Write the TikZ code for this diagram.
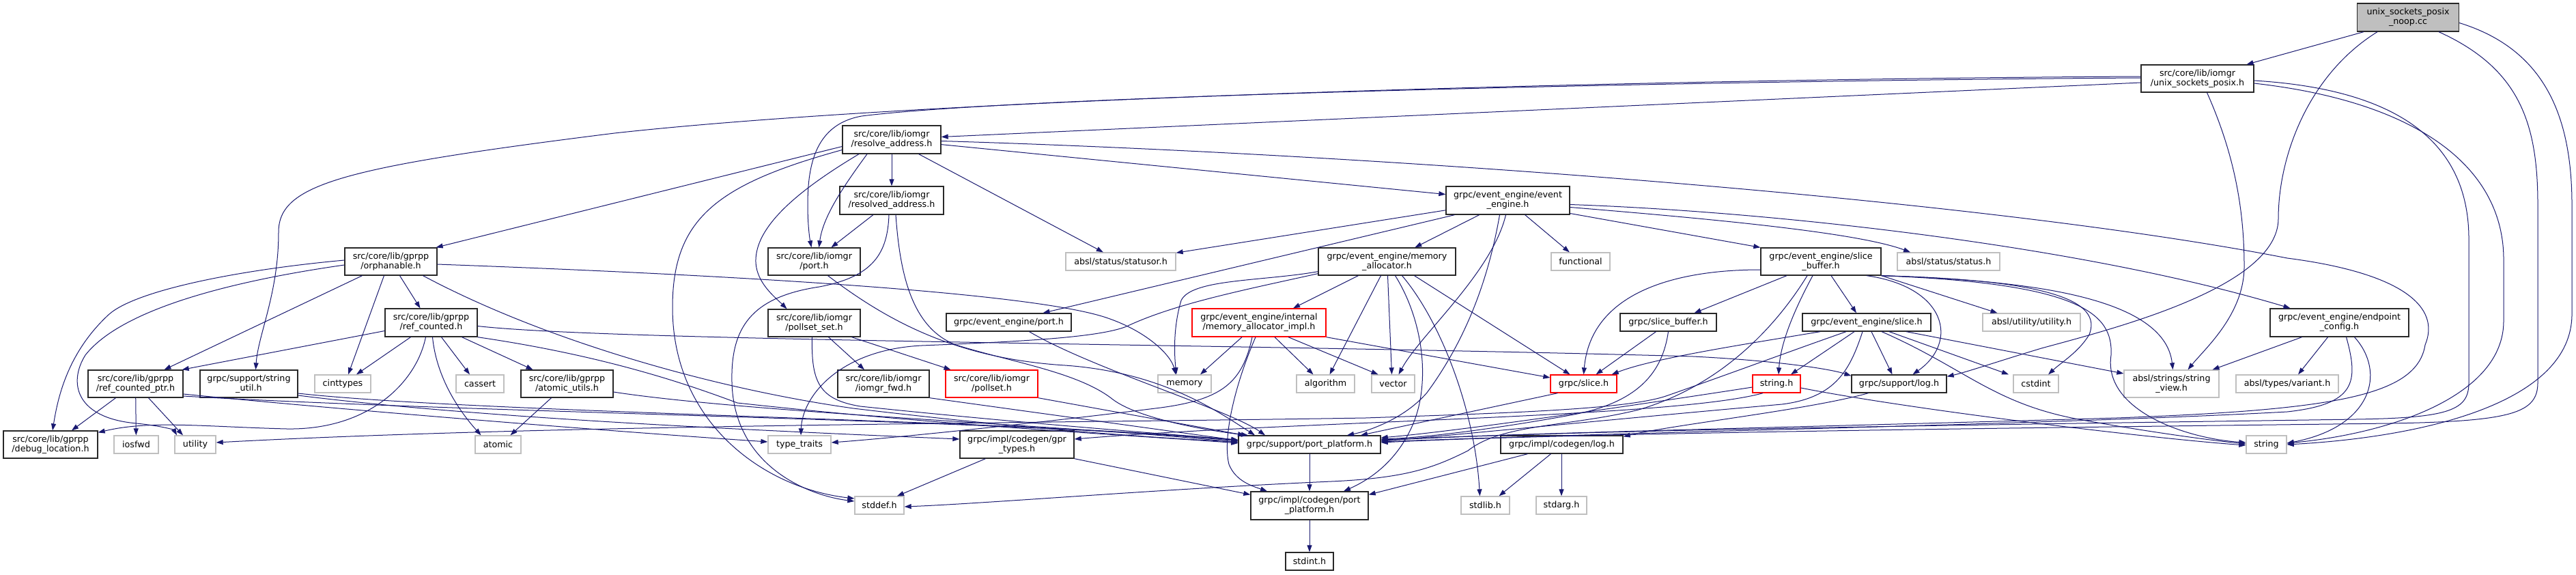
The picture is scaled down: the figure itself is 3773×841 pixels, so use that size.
\documentclass[tikz,border=0pt]{standalone}
\usepackage{fontspec}
\setmainfont{DejaVu Sans}
\usetikzlibrary{arrows.meta}
\definecolor{edgec}{RGB}{25,25,112}
\definecolor{docb}{RGB}{40,40,40}
\definecolor{sysb}{RGB}{191,191,191}
\definecolor{rootf}{RGB}{191,191,191}
\begin{document}
\begin{tikzpicture}[x=1pt,y=-1pt,
  box/.style={rectangle,inner sep=0pt,align=center,line width=1.3pt,font=\fontsize{12.7pt}{14pt}\selectfont},
  doc/.style={box,draw=docb},
  sys/.style={box,draw=sysb},
  redb/.style={box,draw=red},
  root/.style={box,draw=docb,fill=rootf},
  e/.style={draw=edgec,line width=1pt,-{Triangle[length=10pt,width=7pt]}}]
\useasboundingbox[fill=white] (0,0) rectangle (3773,841);
% row 0
\node[root,minimum width=149pt,minimum height=41pt] (N0) at (3527,25.5) {unix\_sockets\_posix\\\_noop.cc};
% row 1
\node[doc,minimum width=165pt,minimum height=40pt] (U) at (3218.5,115) {src/core/lib/iomgr\\/unix\_sockets\_posix.h};
% row 2
\node[doc,minimum width=144pt,minimum height=41pt] (RA) at (1306,204.5) {src/core/lib/iomgr\\/resolve\_address.h};
% row 3
\node[doc,minimum width=152pt,minimum height=41pt] (RD) at (1306,293.5) {src/core/lib/iomgr\\/resolved\_address.h};
\node[doc,minimum width=181pt,minimum height=41pt] (EE) at (2208.5,293.5) {grpc/event\_engine/event\\\_engine.h};
% row 4
\node[doc,minimum width=135pt,minimum height=40pt] (ORPH) at (572.5,383) {src/core/lib/gprpp\\/orphanable.h};
\node[doc,minimum width=135pt,minimum height=40pt] (PORT) at (1192.5,383) {src/core/lib/iomgr\\/port.h};
\node[sys,minimum width=161pt,minimum height=26pt] (STATUSOR) at (1641.5,383) {absl/status/statusor.h};
\node[doc,minimum width=201pt,minimum height=40pt] (MA) at (2031.5,383) {grpc/event\_engine/memory\\\_allocator.h};
\node[sys,minimum width=86pt,minimum height=26pt] (FUNC) at (2315,383) {functional};
\node[doc,minimum width=176pt,minimum height=40pt] (SB) at (2667,383) {grpc/event\_engine/slice\\\_buffer.h};
\node[sys,minimum width=150pt,minimum height=26pt] (STATUS) at (2854,383) {absl/status/status.h};
% row 5
\node[doc,minimum width=135pt,minimum height=41pt] (RC) at (631.5,472.5) {src/core/lib/gprpp\\/ref\_counted.h};
\node[doc,minimum width=135pt,minimum height=40pt] (PSS) at (1192.5,473) {src/core/lib/iomgr\\/pollset\_set.h};
\node[doc,minimum width=183pt,minimum height=26pt] (EEPORT) at (1477.5,472) {grpc/event\_engine/port.h};
\node[redb,minimum width=196pt,minimum height=41pt] (MAI) at (1844,472.5) {grpc/event\_engine/internal\\/memory\_allocator\_impl.h};
\node[doc,minimum width=141pt,minimum height=26pt] (GSB) at (2443.5,472) {grpc/slice\_buffer.h};
\node[doc,minimum width=188pt,minimum height=26pt] (EESL) at (2734,472) {grpc/event\_engine/slice.h};
\node[sys,minimum width=143pt,minimum height=26pt] (UTILH) at (2975.5,472) {absl/utility/utility.h};
\node[doc,minimum width=203pt,minimum height=41pt] (EPC) at (3426.5,472.5) {grpc/event\_engine/endpoint\\\_config.h};
% row 6
\node[doc,minimum width=139pt,minimum height=40pt] (RCP) at (198.5,562) {src/core/lib/gprpp\\/ref\_counted\_ptr.h};
\node[doc,minimum width=143pt,minimum height=40pt] (STRUTIL) at (364.5,562) {grpc/support/string\\\_util.h};
\node[sys,minimum width=82pt,minimum height=26pt] (CINT) at (502,562) {cinttypes};
\node[sys,minimum width=70pt,minimum height=26pt] (CASSERT) at (703,562) {cassert};
\node[doc,minimum width=135pt,minimum height=40pt] (AU) at (830.5,562) {src/core/lib/gprpp\\/atomic\_utils.h};
\node[doc,minimum width=134pt,minimum height=40pt] (FWD) at (1294,562) {src/core/lib/iomgr\\/iomgr\_fwd.h};
\node[redb,minimum width=135pt,minimum height=40pt] (POLLSET) at (1452.5,562) {src/core/lib/iomgr\\/pollset.h};
\node[sys,minimum width=78pt,minimum height=26pt] (MEM) at (1735,562) {memory};
\node[sys,minimum width=85pt,minimum height=26pt] (ALG) at (1941.5,562) {algorithm};
\node[sys,minimum width=63pt,minimum height=26pt] (VEC) at (2040.5,562) {vector};
\node[redb,minimum width=97pt,minimum height=26pt] (GSL) at (2319.5,562) {grpc/slice.h};
\node[redb,minimum width=70pt,minimum height=26pt] (STRH) at (2602,562) {string.h};
\node[doc,minimum width=139pt,minimum height=26pt] (LOG) at (2781.5,562) {grpc/support/log.h};
\node[sys,minimum width=66pt,minimum height=26pt] (CSTDINT) at (2982,562) {cstdint};
\node[sys,minimum width=139pt,minimum height=40pt] (SV) at (3180.5,562) {absl/strings/string\\\_view.h};
\node[sys,minimum width=150pt,minimum height=26pt] (VAR) at (3350,562) {absl/types/variant.h};
% row 7
\node[doc,minimum width=138pt,minimum height=40pt] (DL) at (74,651) {src/core/lib/gprpp\\/debug\_location.h};
\node[sys,minimum width=65pt,minimum height=26pt] (IOSFWD) at (199.5,651) {iosfwd};
\node[sys,minimum width=60pt,minimum height=26pt] (UTIL) at (286,651) {utility};
\node[sys,minimum width=67pt,minimum height=26pt] (ATOMIC) at (729.5,651) {atomic};
\node[sys,minimum width=92pt,minimum height=26pt] (TT) at (1171,651) {type\_traits};
\node[doc,minimum width=167pt,minimum height=40pt] (GPRT) at (1489.5,651) {grpc/impl/codegen/gpr\\\_types.h};
\node[doc,minimum width=208pt,minimum height=26pt] (PP) at (1918,651) {grpc/support/port\_platform.h};
\node[doc,minimum width=179pt,minimum height=26pt] (CLOG) at (2287.5,651) {grpc/impl/codegen/log.h};
\node[sys,minimum width=59pt,minimum height=26pt] (STR) at (3319.5,651) {string};
% row 8
\node[sys,minimum width=72pt,minimum height=26pt] (STDDEF) at (1288,740) {stddef.h};
\node[doc,minimum width=172pt,minimum height=41pt] (CPP) at (1918,740.5) {grpc/impl/codegen/port\\\_platform.h};
\node[sys,minimum width=71pt,minimum height=26pt] (STDLIB) at (2175.5,740) {stdlib.h};
\node[sys,minimum width=74pt,minimum height=26pt] (STDARG) at (2287,740) {stdarg.h};
% row 9
\node[doc,minimum width=70pt,minimum height=26pt] (STDINT) at (1918,822) {stdint.h};

% ---- edges from noop.cc
\draw[e] ([xshift=-65pt]N0.south) -- ([xshift=72pt]U.north);
\draw[e] ([xshift=-45pt]N0.south) .. controls (3380,110) and (3337,230) .. (3337,320) .. controls (3337,420) and (3100,480) .. (2990,510) .. controls (2930,528) and (2880,545) .. ([yshift=-3pt]LOG.north east);
\draw[e] ([xshift=45pt]N0.south) .. controls (3690,100) and (3717,180) .. (3717,300) -- (3717,560) .. controls (3717,605) and (3680,617) .. (3500,620) .. controls (3000,626) and (2300,634) .. ([yshift=3pt]PP.east);
\draw[e] ([yshift=-8pt]N0.east) .. controls (3720,70) and (3767,160) .. (3767,300) -- (3767,460) .. controls (3767,590) and (3550,640) .. (STR.east);
% ---- unix_sockets_posix.h
\draw[e] ([yshift=-6pt]U.west) -- ([yshift=4pt]RA.east);
\draw[e] ([yshift=3pt]U.west) .. controls (2500,115) and (1400,140) .. (900,195) .. controls (500,245) and (408,270) .. (408,340) .. controls (408,430) and (378,490) .. ([xshift=10pt]STRUTIL.north);
\draw[e] ([yshift=1pt]U.west) .. controls (2500,118) and (1500,140) .. (1262,170) .. controls (1195,182) and (1183,240) .. (1183,300) .. controls (1183,330) and (1186,350) .. ([xshift=-4pt]PORT.north);
\draw[e] ([xshift=14pt]U.south) .. controls (3270,220) and (3287,300) .. (3287,390) .. controls (3287,460) and (3230,510) .. ([xshift=24pt]SV.north);
\draw[e] ([yshift=-3pt]U.east) .. controls (3500,130) and (3616,200) .. (3616,350) -- (3616,560) .. controls (3616,600) and (3590,612) .. (3450,614) .. controls (2900,622) and (2300,630) .. ([yshift=6pt]PP.east);
\draw[e] ([yshift=-7pt]U.east) .. controls (3550,150) and (3667,250) .. (3667,380) -- (3667,470) .. controls (3667,580) and (3500,635) .. ([yshift=2pt]STR.east);
% ---- resolve_address.h
\draw[e] ([yshift=-10pt]RA.west) -- ([xshift=-2pt]ORPH.north east);
\draw[e] ([yshift=-15pt]RA.west) .. controls (1050,270) and (985,320) .. (985,450) .. controls (985,620) and (1120,715) .. ([yshift=10pt]STDDEF.west);
\draw[e] ([xshift=-48pt]RA.south) .. controls (1150,290) and (1105,340) .. (1107,385) .. controls (1109,415) and (1135,435) .. ([xshift=-40pt]PSS.north);
\draw[e] ([xshift=-36pt]RA.south) .. controls (1230,280) and (1205,320) .. ([xshift=7pt]PORT.north);
\draw[e] (RA) -- (RD);
\draw[e] (RA) -- (STATUSOR);
\draw[e] (RA) -- (EE);
\draw[e] ([yshift=-2pt]RA.east) .. controls (2000,225) and (2900,290) .. (3350,378) .. controls (3520,400) and (3575,450) .. (3552,505) .. controls (3540,580) and (3420,600) .. (3100,612) .. controls (2700,624) and (2300,632) .. ([yshift=7pt]PP.east);
% ---- resolved_address.h
\draw[e] (RD) -- ([xshift=25pt]PORT.north);
\draw[e] ([xshift=-4pt]RD.south) .. controls (1300,370) and (1280,405) .. (1200,420) .. controls (1100,435) and (1070,480) .. (1072,560) .. controls (1075,680) and (1180,725) .. ([yshift=6pt]STDDEF.west);
\draw[e] ([xshift=6pt]RD.south) .. controls (1318,400) and (1335,480) .. (1400,505) .. controls (1480,530) and (1580,545) .. (1630,585) .. controls (1670,615) and (1780,632) .. ([xshift=-90pt]PP.north);
% ---- event_engine.h
\draw[e] (EE) -- (STATUSOR);
\draw[e] ([xshift=-78pt]EE.south) -- ([xshift=50pt]EEPORT.north);
\draw[e] (EE) -- (MA);
\draw[e] ([xshift=-12pt]EE.south) .. controls (2185,380) and (2160,480) .. (2090,575) .. controls (2060,610) and (2010,630) .. ([xshift=55pt]PP.north);
\draw[e] ([xshift=-3pt]EE.south) .. controls (2185,400) and (2080,490) .. ([xshift=8pt]VEC.north);
\draw[e] (EE) -- (FUNC);
\draw[e] ([yshift=-6pt]EE.east) .. controls (2600,310) and (3050,360) .. ([xshift=-72pt]EPC.north);
\draw[e] ([yshift=-10pt]EE.east) .. controls (2500,320) and (2720,340) .. ([xshift=-56pt]STATUS.north);
\draw[e] ([yshift=-19pt]EE.east) -- (SB.north west);
% ---- orphanable.h
\draw[e] ([yshift=2pt]ORPH.west) .. controls (350,395) and (200,425) .. (160,460) .. controls (100,515) and (85,580) .. ([xshift=3pt]DL.north);
\draw[e] ([yshift=-5pt]ORPH.west) .. controls (350,410) and (180,450) .. (125,520) .. controls (100,560) and (110,612) .. (200,620) .. controls (240,624) and (255,630) .. ([xshift=-27pt]UTIL.north);
\draw[e] ([xshift=-42pt]ORPH.south) -- ([xshift=42pt]RCP.north);
\draw[e] ([xshift=-10pt]ORPH.south) -- ([xshift=8pt]CINT.north);
\draw[e] ([xshift=13pt]ORPH.south) -- ([xshift=-16pt]RC.north);
\draw[e] ([xshift=47pt]ORPH.south) .. controls (800,500) and (1050,570) .. (1250,598) .. controls (1500,628) and (1700,642) .. ([yshift=4pt]PP.west);
\draw[e] ([yshift=-4pt]ORPH.east) .. controls (1000,400) and (1500,425) .. (1620,465) .. controls (1680,485) and (1715,520) .. ([xshift=-13pt]MEM.north);
% ---- ref_counted.h
\draw[e] ([yshift=-12pt]RC.west) -- ([xshift=-2pt]RCP.north east);
\draw[e] ([xshift=-30pt]RC.south) -- ([xshift=20pt]CINT.north);
\draw[e] ([xshift=-8pt]RC.south) .. controls (610,560) and (540,630) .. (420,628) .. controls (300,625) and (220,615) .. ([yshift=-3pt]DL.north east);
\draw[e] ([xshift=2pt]RC.south) .. controls (640,560) and (680,610) .. ([xshift=-25pt]ATOMIC.north);
\draw[e] ([xshift=15pt]RC.south) -- ([xshift=-15pt]CASSERT.north);
\draw[e] ([xshift=45pt]RC.south) -- ([xshift=-50pt]AU.north);
\draw[e] ([yshift=-5pt]RC.east) .. controls (900,500) and (1800,503) .. (2480,522) .. controls (2600,528) and (2680,540) .. ([yshift=-2pt]LOG.north west);
\draw[e] (RC.south east) .. controls (880,520) and (1000,560) .. (1080,590) .. controls (1400,625) and (1700,640) .. ([yshift=2pt]PP.west);
% ---- ref_counted_ptr.h
\draw[e] ([xshift=-29pt]RCP.south) -- ([xshift=31pt]DL.north);
\draw[e] (RCP) -- (IOSFWD);
\draw[e] ([xshift=19pt]RCP.south) -- ([xshift=-18pt]UTIL.north);
\draw[e] ([yshift=-15pt]RCP.east) .. controls (500,600) and (900,632) .. ([yshift=4pt]TT.west);
\draw[e] ([yshift=-18pt]RCP.east) .. controls (700,605) and (1500,615) .. ([yshift=5pt]PP.west);
% ---- string_util.h
\draw[e] ([yshift=-14pt]STRUTIL.east) .. controls (700,605) and (1500,615) .. ([yshift=6pt]PP.west);
\draw[e] ([yshift=-17pt]STRUTIL.east) .. controls (700,612) and (1100,630) .. ([yshift=8pt]GPRT.west);
% ---- atomic_utils.h
\draw[e] ([xshift=-23pt]AU.south) -- ([xshift=18pt]ATOMIC.north);
\draw[e] ([yshift=-12pt]AU.east) .. controls (1100,605) and (1600,625) .. ([yshift=3pt]PP.west);
% ---- pollset_set.h and friends
\draw[e] ([xshift=21pt]PSS.south) -- ([xshift=-28pt]FWD.north);
\draw[e] ([xshift=55pt]PSS.south) -- ([xshift=-60pt]POLLSET.north);
\draw[e] ([xshift=-3pt]PSS.south) .. controls (1188,560) and (1200,585) .. (1260,595) .. controls (1500,620) and (1700,635) .. ([yshift=7pt]PP.west);
\draw[e] (FWD.south east) -- ([yshift=6pt]PP.west);
\draw[e] (POLLSET.south east) -- ([xshift=-95pt]PP.north);
\draw[e] ([xshift=20pt]PORT.south) .. controls (1300,470) and (1400,525) .. (1560,535) .. controls (1700,545) and (1780,600) .. ([xshift=-80pt]PP.north);
\draw[e] ([xshift=30pt]EEPORT.south) .. controls (1600,540) and (1800,600) .. ([xshift=-65pt]PP.north);
% ---- memory_allocator.h
\draw[e] ([xshift=-42pt]MA.south) -- ([xshift=50pt]MAI.north);
\draw[e] ([xshift=-9pt]MA.south) -- ([xshift=6pt]ALG.north);
\draw[e] ([xshift=1pt]MA.south) -- ([xshift=-2pt]VEC.north);
\draw[e] ([xshift=12pt]MA.south) .. controls (2085,470) and (2095,560) .. (2070,620) .. controls (2045,680) and (2000,705) .. ([xshift=50pt]CPP.north);
\draw[e] ([xshift=22pt]MA.south) .. controls (2110,470) and (2160,600) .. ([xshift=-8pt]STDLIB.north);
\draw[e] ([xshift=40pt]MA.south) -- ([xshift=-20pt]GSL.north);
\draw[e] ([yshift=6pt]MA.south west) .. controls (1850,412) and (1745,408) .. (1730,440) .. controls (1718,480) and (1720,520) .. ([xshift=-12pt]MEM.north);
\draw[e] ([yshift=3pt]MA.south west) .. controls (1820,425) and (1720,445) .. (1650,478) .. controls (1610,494) and (1500,500) .. (1350,506) .. controls (1230,512) and (1175,580) .. ([xshift=2pt]TT.north);
% ---- memory_allocator_impl.h
\draw[e] ([xshift=-25pt]MAI.south) -- ([xshift=23pt]MEM.north);
\draw[e] ([xshift=-5pt]MAI.south) .. controls (1810,560) and (1790,640) .. (1800,680) .. controls (1810,705) and (1835,712) .. ([xshift=-62pt]CPP.north);
\draw[e] ([xshift=23pt]MAI.south) -- ([xshift=-18pt]ALG.north);
\draw[e] ([xshift=43pt]MAI.south) -- ([xshift=-22pt]VEC.north);
\draw[e] (MAI.south east) -- ([yshift=9pt]GSL.west);
\draw[e] ([xshift=-10pt]MAI.south) .. controls (1820,560) and (1790,585) .. (1700,597) .. controls (1500,622) and (1300,642) .. ([yshift=3pt]TT.east);
% ---- event_engine/slice_buffer.h
\draw[e] ([yshift=-12pt]SB.west) .. controls (2450,395) and (2330,430) .. (GSL.north);
\draw[e] ([xshift=-50pt]SB.south) -- ([xshift=38pt]GSB.north);
\draw[e] ([xshift=-20pt]SB.south) .. controls (2600,480) and (2520,565) .. (2400,600) .. controls (2300,625) and (2200,620) .. (2150,660) .. controls (2100,685) and (2060,700) .. (1950,705) .. controls (1700,716) and (1450,737) .. ([yshift=-2pt]STDDEF.east);
\draw[e] ([xshift=-12pt]SB.south) .. controls (2630,450) and (2608,500) .. ([xshift=3pt]STRH.north);
\draw[e] ([xshift=15pt]SB.south) -- ([xshift=-15pt]EESL.north);
\draw[e] ([xshift=67pt]SB.south) .. controls (2850,420) and (2870,500) .. ([xshift=20pt]LOG.north);
\draw[e] (SB.south east) -- ([xshift=-50pt]UTILH.north);
\draw[e] (SB.south east) .. controls (2950,410) and (3170,430) .. ([xshift=2pt]SV.north);
\draw[e] (SB.south east) .. controls (3000,410) and (3080,440) .. (3060,490) .. controls (3045,515) and (3020,530) .. ([xshift=18pt]CSTDINT.north);
\draw[e] (SB.south east) .. controls (3050,415) and (3095,460) .. (3092,520) .. controls (3080,600) and (3200,642) .. ([yshift=3pt]STR.west);
% ---- grpc/slice_buffer.h, grpc/slice.h
\draw[e] ([xshift=-18pt]GSB.south) -- ([xshift=18pt]GSL.north);
\draw[e] (GSB.south) .. controls (2435,545) and (2400,590) .. (2300,608) .. controls (2200,626) and (2100,640) .. ([yshift=8pt]PP.east);
\draw[e] ([xshift=-38pt]GSL.south) -- ([xshift=75pt]PP.north);
% ---- event_engine/slice.h
\draw[e] ([xshift=-68pt]EESL.south) .. controls (2550,505) and (2420,525) .. ([xshift=-8pt]GSL.north east);
\draw[e] ([xshift=-30pt]EESL.south) .. controls (2620,515) and (2540,545) .. (2440,580) .. controls (2380,600) and (2200,605) .. (2000,612) .. controls (1500,620) and (800,622) .. ([yshift=3pt]UTIL.east);
\draw[e] ([xshift=-18pt]EESL.south) -- ([xshift=21pt]STRH.north);
\draw[e] ([xshift=-6pt]EESL.south) .. controls (2710,540) and (2690,582) .. (2610,592) .. controls (2350,615) and (2100,640) .. ([yshift=5pt]PP.east);
\draw[e] ([xshift=7pt]EESL.south) -- ([xshift=-10pt]LOG.north);
\draw[e] ([xshift=22pt]EESL.south) .. controls (2880,540) and (2920,592) .. (3050,615) .. controls (3150,633) and (3240,645) .. ([yshift=1pt]STR.west);
\draw[e] ([xshift=33pt]EESL.south) -- ([xshift=-40pt]CSTDINT.north);
\draw[e] ([xshift=58pt]EESL.south) -- ([yshift=15pt]SV.west);
% ---- string.h
\draw[e] ([yshift=-5pt]STRH.west) .. controls (2450,585) and (2150,630) .. ([yshift=10pt]PP.east);
\draw[e] ([xshift=-20pt]STRH.south) .. controls (2450,612) and (1900,616) .. ([yshift=8pt]GPRT.east);
\draw[e] ([yshift=-6pt]STRH.east) .. controls (2800,600) and (3150,642) .. ([yshift=-1pt]STR.west);
% ---- grpc/support/log.h
\draw[e] ([xshift=-45pt]LOG.south) .. controls (2650,600) and (2450,622) .. ([yshift=-2pt]CLOG.north east);
% ---- endpoint_config.h
\draw[e] ([xshift=-55pt]EPC.south) -- ([xshift=60pt]SV.north);
\draw[e] ([xshift=-17pt]EPC.south) -- ([xshift=16pt]VAR.north);
\draw[e] ([xshift=10pt]EPC.south) .. controls (3455,560) and (3450,592) .. (3350,603) .. controls (3000,622) and (2400,632) .. ([yshift=4pt]PP.east);
\draw[e] ([xshift=22pt]EPC.south) .. controls (3495,545) and (3475,625) .. ([yshift=2pt]STR.east);
% ---- lower part
\draw[e] (PP) -- (CPP);
\draw[e] ([xshift=-46pt]GPRT.south) -- ([xshift=26pt]STDDEF.north);
\draw[e] (GPRT.south east) -- ([yshift=-5pt]CPP.north west);
\draw[e] ([xshift=-50pt]CLOG.south) -- ([yshift=-5pt]CPP.north east);
\draw[e] ([xshift=-16pt]CLOG.south) -- ([xshift=20pt]STDLIB.north);
\draw[e] ([xshift=-0.5pt]CLOG.south) -- (STDARG.north);
\draw[e] (CPP) -- (STDINT);
\end{tikzpicture}
\end{document}
